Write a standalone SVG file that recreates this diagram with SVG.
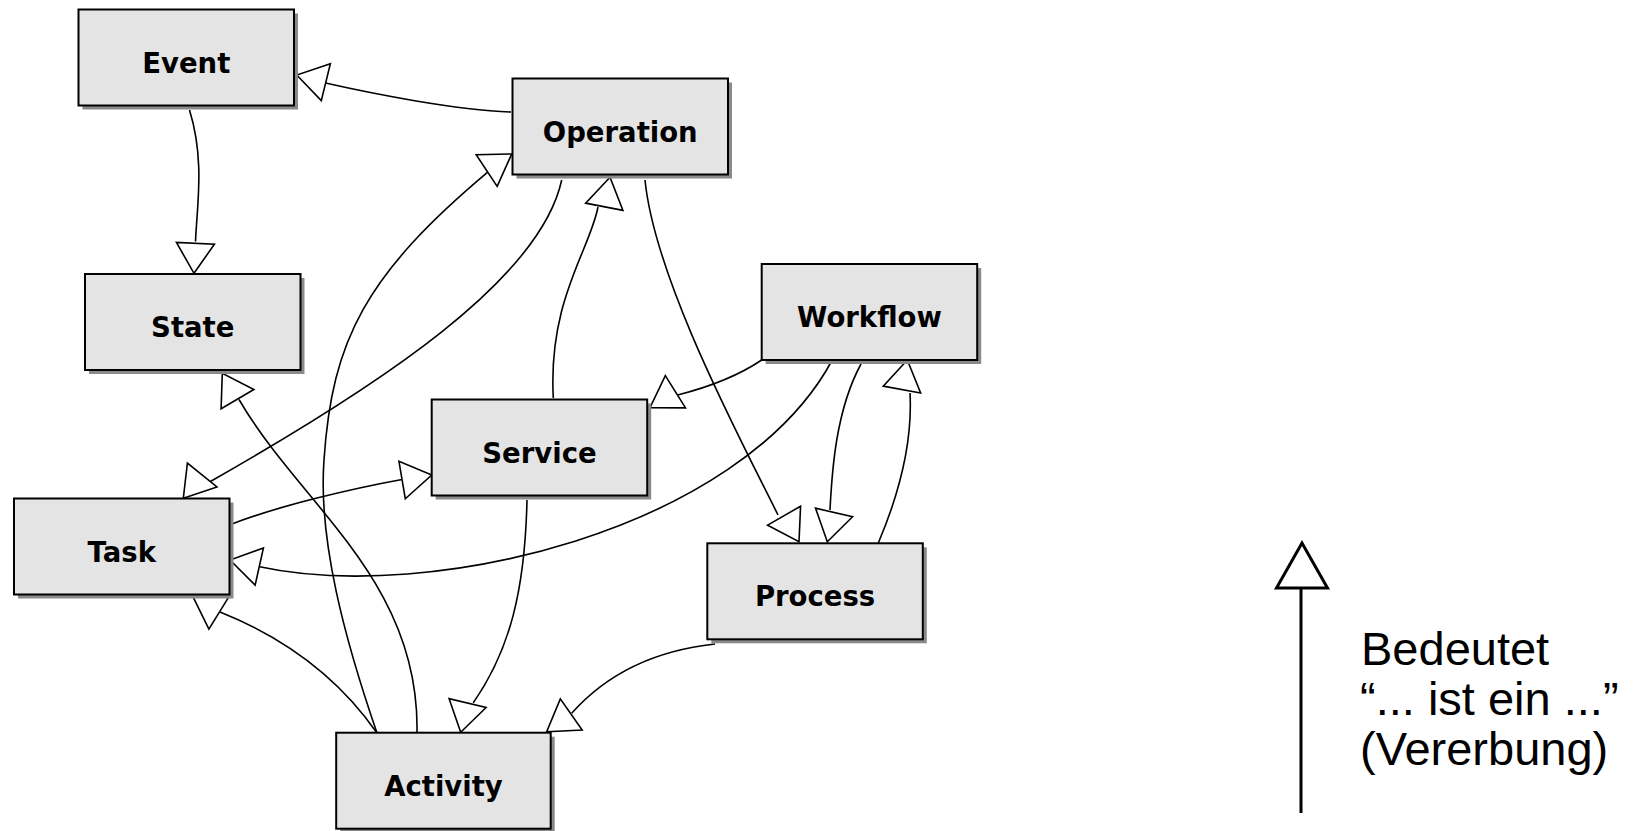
<svg xmlns="http://www.w3.org/2000/svg" xmlns:xlink="http://www.w3.org/1999/xlink" width="1638" height="831" viewBox="0 0 1638 831">
<style>
.bx{fill:#e4e4e4;stroke:#000;stroke-width:2}
.sh{fill:#8a8a8a}
.lbl{font-family:"DejaVu Sans",sans-serif;font-weight:bold;font-size:27.5px;text-anchor:middle;fill:#000}
.edge{fill:none;stroke:#000;stroke-width:1.6}
.ah{fill:#fff;stroke:#000;stroke-width:1.6;stroke-linejoin:miter}
.leg{font-family:"Liberation Sans",Arial,sans-serif;font-size:47px;fill:#000}
</style>
<defs>
<path id="ah" d="M0,0 L-30,-19 L-30,19 Z"/>
</defs>
<rect width="1638" height="831" fill="#fff"/>
<g id="connectors">
 <g id="op-event"><path class="edge" d="M511,112 C455,110 372,93.5 325.5,83"/><use href="#ah" class="ah" transform="translate(296.7,75) rotate(-166.2)"/></g>
 <g id="event-state"><path class="edge" d="M189.5,110 C205,160 197,205 195.5,241.5"/><use href="#ah" class="ah" transform="translate(194,273.3) rotate(92.7)"/></g>
 <g id="activity-op"><path class="edge" d="M377,733 C345,640 318,540 324,460 C332,340 365.7,274.6 488.3,171.7"/><use href="#ah" class="ah" transform="translate(511.7,154) rotate(-33.5)"/></g>
 <g id="activity-state"><path class="edge" d="M417,733 C420,580 300,505 239,399.5"/><use href="#ah" class="ah" transform="translate(222.3,373.3) rotate(-120.4)"/></g>
 <g id="op-task"><path class="edge" d="M561.7,180 C540,280 380,385 210,481.7"/><use href="#ah" class="ah" transform="translate(183.3,498.3) rotate(129)"/></g>
 <g id="service-op"><path class="edge" d="M553.3,398 C548,300 590,250 598,207"/><use href="#ah" class="ah" transform="translate(610,177.3) rotate(-79)"/></g>
 <g id="op-process"><path class="edge" d="M645,180 C655,280 741,440 778,515"/><use href="#ah" class="ah" transform="translate(799,541.7) rotate(60.2)"/></g>
 <g id="workflow-service"><path class="edge" d="M761.7,360 C735,378 705,388 677.7,395"/><use href="#ah" class="ah" transform="translate(650,407.7) rotate(147.9)"/></g>
 <g id="workflow-task"><path class="edge" d="M831.7,361 C740,530 430,604 258.3,566.5"/><use href="#ah" class="ah" transform="translate(230,560) rotate(-167.4)"/></g>
 <g id="workflow-process"><path class="edge" d="M861,364 C836,410 832,470 830,510"/><use href="#ah" class="ah" transform="translate(827.3,541.7) rotate(103)"/></g>
 <g id="process-workflow"><path class="edge" d="M878.3,543 C905,480 912,430 910,393"/><use href="#ah" class="ah" transform="translate(907.3,360) rotate(-79.7)"/></g>
 <g id="task-service"><path class="edge" d="M232,524 C278,506 353,488.4 402,479.5"/><use href="#ah" class="ah" transform="translate(431.7,475) rotate(-9.6)"/></g>
 <g id="service-activity"><path class="edge" d="M527,500 C525,590 510,650 473.3,702.7"/><use href="#ah" class="ah" transform="translate(460.7,732.3) rotate(103.3)"/></g>
 <g id="process-activity"><path class="edge" d="M715,644 C660,650 610,670 571.7,713.3"/><use href="#ah" class="ah" transform="translate(546.7,731.7) rotate(144.9)"/></g>
 <g id="activity-task"><path class="edge" d="M377,733 C340,680 290,640 220,612"/><use href="#ah" class="ah" transform="translate(193.3,597.3) rotate(-148.4)"/></g>
</g>
<g id="node-event" transform="translate(78.5,9.5)"><rect class="sh" x="4" y="4" width="215.5" height="96"/><rect class="bx" width="215.5" height="96"/><text class="lbl" x="107.75" y="63">Event</text></g>
<g id="node-operation" transform="translate(512.5,78.5)"><rect class="sh" x="4" y="4" width="215.5" height="96"/><rect class="bx" width="215.5" height="96"/><text class="lbl" x="107.75" y="63">Operation</text></g>
<g id="node-state" transform="translate(85,274)"><rect class="sh" x="4" y="4" width="215.5" height="96"/><rect class="bx" width="215.5" height="96"/><text class="lbl" x="107.75" y="63">State</text></g>
<g id="node-workflow" transform="translate(761.7,264)"><rect class="sh" x="4" y="4" width="215.5" height="96"/><rect class="bx" width="215.5" height="96"/><text class="lbl" x="107.75" y="63">Workflow</text></g>
<g id="node-service" transform="translate(431.7,399.5)"><rect class="sh" x="4" y="4" width="215.5" height="96"/><rect class="bx" width="215.5" height="96"/><text class="lbl" x="107.75" y="63">Service</text></g>
<g id="node-task" transform="translate(14,498.5)"><rect class="sh" x="4" y="4" width="215.5" height="96"/><rect class="bx" width="215.5" height="96"/><text class="lbl" x="107.75" y="63">Task</text></g>
<g id="node-process" transform="translate(707.3,543.3)"><rect class="sh" x="4" y="4" width="215.5" height="96"/><rect class="bx" width="215.5" height="96"/><text class="lbl" x="107.75" y="63">Process</text></g>
<g id="node-activity" transform="translate(336.2,732.7)"><rect class="sh" x="4" y="4" width="214.5" height="96"/><rect class="bx" width="214.5" height="96"/><text class="lbl" x="107.25" y="63">Activity</text></g>
<g id="legend">
 <line x1="1301" y1="588" x2="1301" y2="813" stroke="#000" stroke-width="3"/>
 <polygon points="1302,543 1276.5,588 1327.5,588" fill="#fff" stroke="#000" stroke-width="3" stroke-linejoin="miter"/>
 <text class="leg" x="1361" y="665">Bedeutet</text>
 <text class="leg" x="1360" y="715">“... ist ein ...”</text>
 <text class="leg" x="1360" y="765">(Vererbung)</text>
</g>
</svg>
